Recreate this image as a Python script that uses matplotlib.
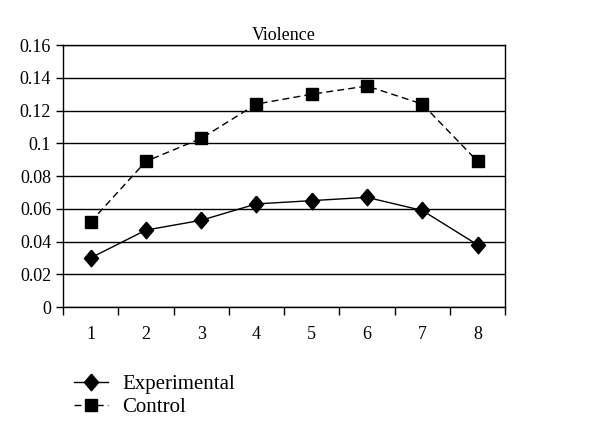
import matplotlib
matplotlib.use('Agg')
import matplotlib.pyplot as plt
from matplotlib.ticker import FixedLocator

plt.rcParams['font.family'] = ['Liberation Serif', 'DejaVu Serif']

# Data
groups = [1, 2, 3, 4, 5, 6, 7, 8]
experimental = [0.030, 0.047, 0.053, 0.063, 0.065, 0.067, 0.059, 0.038]
control = [0.052, 0.089, 0.103, 0.124, 0.130, 0.135, 0.124, 0.089]
yticks = [0, 0.02, 0.04, 0.06, 0.08, 0.1, 0.12, 0.14, 0.16]
ytick_labels = ['0', '0.02', '0.04', '0.06', '0.08', '0.1', '0.12', '0.14', '0.16']

# slightly tall diamond
diamond = [(0, 1), (0.85, 0), (0, -1), (-0.85, 0), (0, 1)]

fig = plt.figure(figsize=(6, 4.38), dpi=100)
ax = fig.add_axes([0.105, 0.299, 0.737, 0.598])

ax.set_axisbelow(True)
ax.grid(axis='y', color='black', linewidth=1)

l1, = ax.plot(groups, experimental, color='black', linewidth=1, marker=diamond,
              markersize=12, label='Experimental')
l2, = ax.plot(groups, control, color='black', linewidth=1, linestyle=(0, (5, 3)),
              marker='s', markersize=9, label='Control')

ax.set_xlim(0.5, 8.5)
ax.set_ylim(0, 0.16)
ax.set_yticks(yticks)
ax.set_yticklabels(ytick_labels, fontsize=13)

ax.xaxis.set_major_locator(FixedLocator([g - 0.5 for g in groups] + [8.5]))
ax.xaxis.set_major_formatter(plt.NullFormatter())
ax.xaxis.set_minor_locator(FixedLocator(groups))
ax.set_xticklabels([str(g) for g in groups], minor=True, fontsize=13)
ax.tick_params(axis='x', which='major', direction='out', length=6, width=1)
ax.tick_params(axis='x', which='minor', length=0, pad=14)
ax.tick_params(axis='y', direction='out', length=5, width=1)

for s in ax.spines.values():
    s.set_color('black')
    s.set_linewidth(1)

ax.set_title('Violence', fontsize=13, pad=4)

fig.legend(handles=[l1, l2], loc='upper left', bbox_to_anchor=(0.11, 0.164),
           frameon=False, fontsize=15, handlelength=1.6, handletextpad=0.7,
           labelspacing=0.15, borderaxespad=0)

fig.savefig('out.png', dpi=100)
